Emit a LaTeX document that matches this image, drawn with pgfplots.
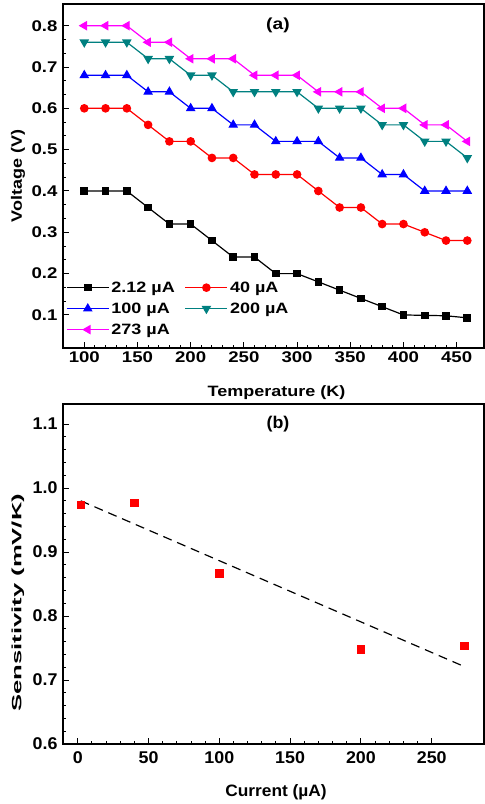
\documentclass[border=0pt]{standalone}
\usepackage{fontspec}
\setmainfont{Liberation Sans}[FakeStretch=1.2]
\newfontfamily\fontb{Liberation Sans}[FakeStretch=1.05]
\newfontfamily\fontc{Liberation Sans}[FakeStretch=1.9]
\usepackage{pgfplots}
\pgfplotsset{compat=1.18}
\definecolor{tealc}{RGB}{0,128,128}
\definecolor{magc}{RGB}{255,0,255}

\pgfplotsset{
  panel/.style={
    scale only axis, width=421pt,
    tick align=inside, xtick pos=left, ytick pos=left,
    major tick length=6pt, minor tick length=3pt,
    tick style={black, line width=1pt},
    axis line style={line width=1.4pt},
    /pgf/number format/assume math mode=true,
    /pgf/number format/.cd, fixed, fixed zerofill, precision=1,
  },
}

\begin{document}
\begin{tikzpicture}
\useasboundingbox (-63pt,-456pt) rectangle (422pt,348pt);

% (a) voltage vs temperature
\begin{axis}[panel, at={(0pt,0pt)}, anchor=south west, height=344pt,
  xmin=80, xmax=475.7, ymin=0.02, ymax=0.8525,
  xtick={100,150,...,450}, minor x tick num=4,
  ytick={0.1,0.2,...,0.8}, minor y tick num=2,
  xticklabel={\pgfmathprintnumber[fixed,precision=0]{\tick}},
  tick label style={font=\bfseries\fontsize{15.5}{17}\selectfont},
  y tick label style={xshift=-2pt},
  x label style={font=\bfseries\fontsize{15}{17}\selectfont, at={(axis description cs:0.507,-0.131)}, anchor=center},
  y label style={font=\bfseries\fontsize{15}{17}\selectfont, at={(axis description cs:-0.107,0.5)}, anchor=center},
  xlabel={Temperature (K)}, ylabel={Voltage (V)},
  every axis plot/.append style={line width=1.2pt},
  legend style={at={(rel axis cs:0,0.205)}, anchor=north west, draw=none, fill=none,
    font=\bfseries\fontsize{15}{17}\selectfont, row sep=5pt,
    /tikz/every even column/.append style={column sep=8pt}},
  legend columns=2, legend cell align=left,
  legend image code/.code={\draw[mark repeat=2,mark phase=2,#1] plot coordinates {(0pt,0pt) (21pt,0pt) (42pt,0pt)};},
]
\addplot[black, mark=square*, mark size=3.2pt] coordinates {
 (100,0.40) (120,0.40) (140,0.40) (160,0.36) (180,0.32) (200,0.32) (220,0.28)
 (240,0.24) (260,0.24) (280,0.20) (300,0.20) (320,0.18) (340,0.16) (360,0.14)
 (380,0.12) (400,0.10) (420,0.099) (440,0.098) (460,0.093)};
\addlegendentry{2.12 µA}
\addplot[red, mark=*, mark size=3.7pt] coordinates {
 (100,0.60) (120,0.60) (140,0.60) (160,0.56) (180,0.52) (200,0.52) (220,0.48)
 (240,0.48) (260,0.44) (280,0.44) (300,0.44) (320,0.40) (340,0.36) (360,0.36)
 (380,0.32) (400,0.32) (420,0.30) (440,0.28) (460,0.28)};
\addlegendentry{40 µA}
\addplot[blue, mark=triangle*, mark size=4.4pt] coordinates {
 (100,0.68) (120,0.68) (140,0.68) (160,0.64) (180,0.64) (200,0.60) (220,0.60)
 (240,0.56) (260,0.56) (280,0.52) (300,0.52) (320,0.52) (340,0.48) (360,0.48)
 (380,0.44) (400,0.44) (420,0.40) (440,0.40) (460,0.40)};
\addlegendentry{100 µA}
\addplot[tealc, mark=triangle*, mark size=4.4pt, mark options={rotate=180}] coordinates {
 (100,0.76) (120,0.76) (140,0.76) (160,0.72) (180,0.72) (200,0.68) (220,0.68)
 (240,0.64) (260,0.64) (280,0.64) (300,0.64) (320,0.60) (340,0.60) (360,0.60)
 (380,0.56) (400,0.56) (420,0.52) (440,0.52) (460,0.48)};
\addlegendentry{200 µA}
\addplot[magc, mark=triangle*, mark size=4.4pt, mark options={rotate=90}] coordinates {
 (100,0.80) (120,0.80) (140,0.80) (160,0.76) (180,0.76) (200,0.72) (220,0.72)
 (240,0.72) (260,0.68) (280,0.68) (300,0.68) (320,0.64) (340,0.64) (360,0.64)
 (380,0.60) (400,0.60) (420,0.56) (440,0.56) (460,0.52)};
\addlegendentry{273 µA}
\node[font=\bfseries\fontsize{16}{18}\selectfont] at (axis cs:282,0.80) {(a)};
\end{axis}

% (b) sensitivity vs current
\begin{axis}[panel, at={(0pt,-396pt)}, anchor=south west, height=340pt,
  xmin=-10.4, xmax=286.9, ymin=0.6, ymax=1.13125,
  xtick={0,50,...,250}, minor x tick num=4,
  ytick={0.6,0.7,...,1.1}, minor y tick num=4,
  xticklabel={\pgfmathprintnumber[fixed,precision=0]{\tick}},
  tick label style={font=\fontb\bfseries\fontsize{17}{19}\selectfont},
  x tick label style={yshift=-4pt},
  y tick label style={xshift=-2pt},
  x label style={font=\fontb\bfseries\fontsize{16.5}{18}\selectfont, at={(axis description cs:0.506,-0.141)}, anchor=center},
  y label style={font=\fontc\bfseries\fontsize{13.5}{16}\selectfont, at={(axis description cs:-0.107,0.415)}, anchor=center},
  xlabel={Current (µA)}, ylabel={Sensitivity (mV/K)},
]
\addplot[black, line width=1.2pt, dash pattern=on 9pt off 6pt] coordinates {(2.12,0.980) (273,0.721)};
\addplot[only marks, red, mark=square*, mark size=3.7pt] coordinates {
 (2.12,0.974) (40,0.977) (100,0.867) (200,0.748) (273,0.754)};
\node[font=\fontb\bfseries\fontsize{17}{19}\selectfont] at (axis cs:141.4,1.10) {(b)};
\end{axis}
\end{tikzpicture}
\end{document}
